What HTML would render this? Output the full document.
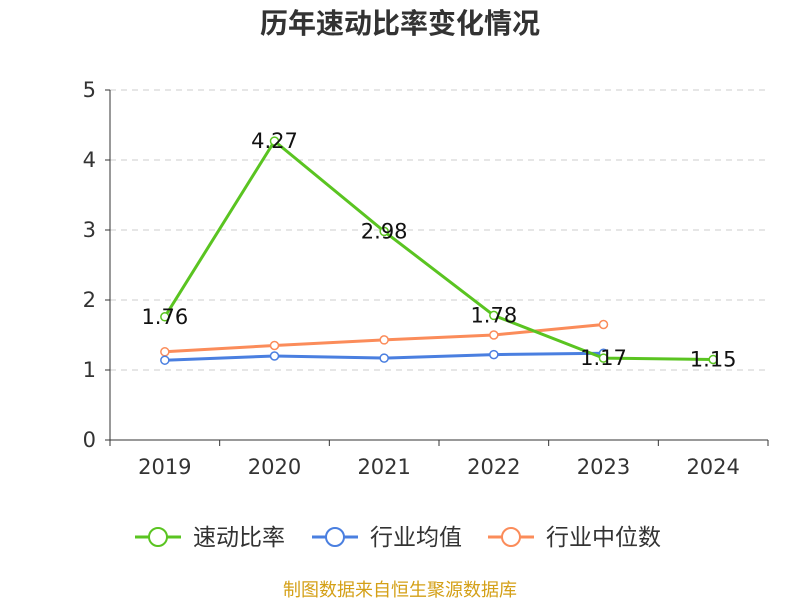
<!DOCTYPE html>
<html><head><meta charset="utf-8"><style>
body{margin:0;background:#fff;}
svg text{font-family:"DejaVu Sans","Noto Sans CJK SC",sans-serif;}
svg text.cjk{font-family:"Liberation Sans","Noto Sans CJK SC",sans-serif;}
</style></head><body>
<svg id="c" width="800" height="600">
<text class="cjk" x="400" y="33" text-anchor="middle" font-size="28" font-weight="bold" fill="#333">历年速动比率变化情况</text>
<g id="grid"></g><g id="axes"></g><g id="series"></g><g id="legend"></g>
<text class="cjk" x="400" y="596" text-anchor="middle" font-size="18" fill="#d4a017">制图数据来自恒生聚源数据库</text>
</svg>
<script>
const categories=["2019","2020","2021","2022","2023","2024"];
const yTicks=[0,1,2,3,4,5];
const quickRatio=[1.76,4.27,2.98,1.78,1.17,1.15];
const industryMean=[1.14,1.20,1.17,1.22,1.24];
const industryMedian=[1.26,1.35,1.43,1.50,1.65];
const ns="http://www.w3.org/2000/svg";
const X0=110,X1=768,Y0=440,Y1=90;
const bw=(X1-X0)/categories.length;
const xs=i=>X0+bw*(i+0.5);
const ys=v=>Y0-(v/5)*(Y0-Y1);
function mk(t,a,p){const e=document.createElementNS(ns,t);for(const k in a)e.setAttribute(k,a[k]);p.appendChild(e);return e;}
const grid=document.getElementById('grid'),axes=document.getElementById('axes'),ser=document.getElementById('series'),leg=document.getElementById('legend');
yTicks.forEach(v=>{
 if(v>0){const l=mk('line',{x1:X0,x2:X1,y1:ys(v),y2:ys(v),stroke:'#ccc','stroke-dasharray':'6,5'},grid);
 
 }
 const t=mk('text',{x:X0-14,y:ys(v)+7,'text-anchor':'end','font-size':21,fill:'#333'},axes);t.textContent=v;
 
 
 mk('line',{x1:X0-5,x2:X0,y1:ys(v),y2:ys(v),stroke:'#333'},axes);
});
mk('line',{x1:X0,x2:X0,y1:Y1,y2:Y0,stroke:'#333'},axes);
mk('line',{x1:X0,x2:X1,y1:Y0,y2:Y0,stroke:'#333'},axes);
for(let i=0;i<=categories.length;i++)mk('line',{x1:X0+bw*i,x2:X0+bw*i,y1:Y0,y2:Y0+6,stroke:'#333'},axes);
categories.forEach((c,i)=>{const t=mk('text',{x:xs(i),y:Y0+34,'text-anchor':'middle','font-size':21,fill:'#333'},axes);t.textContent=c;
 
 });
function series(data,color,name,labels){
 const g=mk('g',{},ser);
 
 
 mk('polyline',{points:data.map((v,i)=>xs(i)+','+ys(v)).join(' '),fill:'none',stroke:color,'stroke-width':3},g);
 data.forEach((v,i)=>{const c=mk('circle',{cx:xs(i),cy:ys(v),r:4,fill:'#fff',stroke:color,'stroke-width':1.5},g);
  
  
  if(labels){const t=mk('text',{x:xs(i),y:ys(v)+7,'text-anchor':'middle','font-size':21,fill:'#111'},g);t.textContent=v.toFixed(2);
  
  }});
}
series(industryMedian,'#fb8c5a','series-industry-median',false);
series(industryMean,'#4a7fe0','series-industry-mean',false);
series(quickRatio,'#5ac421','series-quick-ratio',true);
[["速动比率","#5ac421",135],["行业均值","#4a7fe0",312],["行业中位数","#fb8c5a",488]].forEach(([n,c,x])=>{
 const g=mk('g',{},leg);
 
 
 mk('line',{x1:x,x2:x+46,y1:537,y2:537,stroke:c,'stroke-width':3},g);
 mk('circle',{cx:x+23,cy:537,r:9,fill:'#fff',stroke:c,'stroke-width':2},g);
 const t=mk('text',{x:x+58,y:545,'font-size':23,fill:'#333','class':'cjk'},g);t.textContent=n;
});
</script>
</body></html>
